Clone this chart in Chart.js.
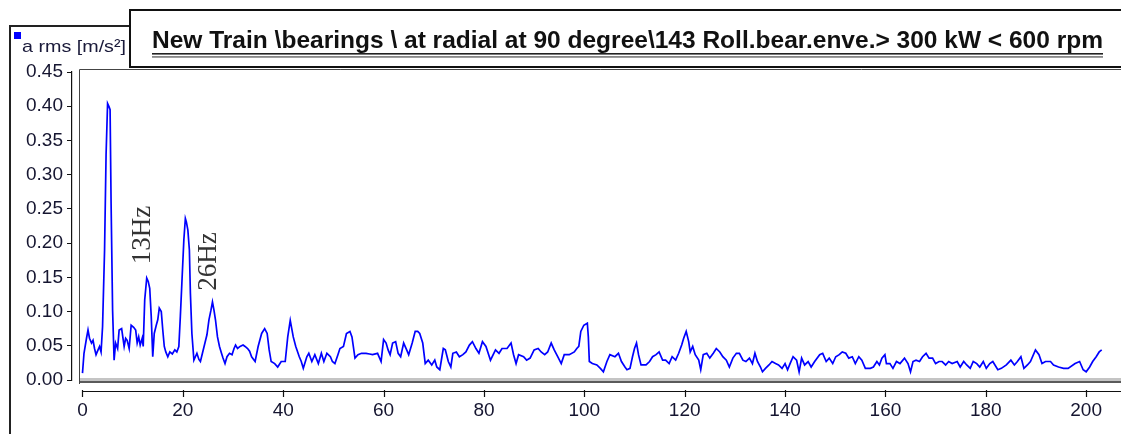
<!DOCTYPE html>
<html><head><meta charset="utf-8">
<script src="https://cdn.jsdelivr.net/npm/chart.js@4"></script>
<style>html,body{margin:0;padding:0;background:#fff;overflow:hidden}#wrap{position:relative;width:1121px;height:434px}</style>
</head><body><div id="wrap"><canvas id="c" width="1121" height="434"></canvas></div>
<script>
const titleText = 'New Train \\bearings \\ at radial at 90 degree\\143 Roll.bear.enve.> 300 kW < 600 rpm';
const yAxisLabel = 'a rms [m/s\u00B2]';
const xTicks = [0,20,40,60,80,100,120,140,160,180,200];
const yTicks = [0,0.05,0.10,0.15,0.20,0.25,0.30,0.35,0.40,0.45];
const peakLabels = ['13Hz','26Hz'];
const peakLabelFreq = [12.1, 25.2];
const peakLabelAmp = [0.212, 0.173];

const freqHz = [0.0,0.3,0.8,1.1,1.4,1.8,2.1,2.4,2.7,3.1,3.4,3.7,4.0,4.4,4.7,5.0,5.3,5.5,5.7,6.0,6.3,6.6,7.0,7.3,7.8,8.3,8.6,8.9,9.3,9.7,10.2,10.6,10.9,11.2,11.5,11.9,12.1,12.4,12.8,13.1,13.4,13.7,14.0,14.3,14.7,15.0,15.3,15.7,16.0,16.3,16.6,17.0,17.4,17.9,18.4,18.8,19.2,19.5,19.8,20.2,20.5,20.7,21.0,21.3,21.5,21.8,22.2,22.5,22.8,23.2,23.5,23.9,24.4,24.8,25.2,25.6,25.9,26.2,26.5,26.9,27.3,27.7,28.0,28.4,28.8,29.3,29.8,30.2,30.5,30.9,31.4,32.0,32.4,32.9,33.3,33.7,34.4,35.0,35.7,36.3,36.8,37.2,37.6,38.3,38.9,39.6,40.4,40.9,41.4,41.7,42.0,42.5,43.2,43.6,44.0,44.7,45.1,45.7,46.3,47.0,47.6,48.1,48.7,49.4,49.8,50.3,50.9,51.3,52.0,52.6,53.3,53.7,54.3,54.9,55.6,56.5,57.2,57.8,58.8,59.5,60.0,60.5,60.9,61.3,61.8,62.4,62.9,63.4,64.0,64.6,65.0,65.7,66.3,66.8,67.2,67.8,68.3,68.9,69.6,70.2,70.6,71.2,71.9,72.3,72.9,73.4,73.8,74.5,75.1,75.8,76.4,77.1,77.7,78.4,79.0,79.7,80.4,81.3,82.3,83.0,83.6,84.6,85.4,85.9,86.4,86.9,87.9,88.5,89.2,90.0,90.8,91.4,92.1,92.7,93.4,94.0,94.7,95.4,96.0,97.0,98.0,98.5,98.9,99.3,99.9,100.6,100.8,101.0,101.6,102.5,103.2,103.8,104.5,105.1,106.1,106.8,107.4,108.1,108.5,109.1,109.6,110.0,110.4,110.8,111.3,112.3,113.0,113.6,114.3,114.9,115.6,116.2,116.9,117.5,118.2,118.8,119.4,119.8,120.3,120.8,121.1,121.6,122.1,122.8,123.2,123.7,124.4,125.0,125.7,126.3,127.0,127.6,128.3,128.9,129.6,130.3,130.9,131.6,132.2,132.9,133.5,134.0,134.5,135.1,135.5,136.1,136.8,137.4,138.1,138.7,139.4,140.0,140.5,141.0,141.6,142.3,142.8,143.3,143.9,144.6,145.2,145.9,146.9,147.5,148.2,148.8,149.5,150.1,150.8,151.4,152.1,152.7,153.4,154.0,154.7,155.3,156.0,157.0,157.6,158.3,158.8,159.3,159.9,160.2,160.9,161.5,162.2,162.9,163.8,164.5,165.0,165.5,166.1,166.8,167.4,168.1,168.7,169.4,170.0,170.7,171.3,172.0,172.6,173.3,174.3,174.9,175.6,176.2,176.9,177.5,178.2,178.8,179.5,180.1,180.8,181.4,182.4,183.1,184.1,185.0,185.7,186.3,187.0,187.6,188.3,188.9,189.9,190.6,191.2,191.9,192.9,193.5,194.5,195.5,196.4,197.8,198.7,199.4,200.0,200.7,201.3,202.0,202.6,203.1];
const amplitude = [0.010,0.039,0.061,0.073,0.061,0.054,0.058,0.046,0.037,0.044,0.049,0.041,0.078,0.190,0.329,0.404,0.399,0.395,0.258,0.102,0.029,0.054,0.046,0.073,0.075,0.049,0.061,0.058,0.046,0.080,0.077,0.073,0.054,0.063,0.051,0.061,0.049,0.117,0.149,0.144,0.134,0.093,0.034,0.068,0.080,0.088,0.105,0.100,0.073,0.049,0.041,0.034,0.041,0.038,0.044,0.041,0.049,0.093,0.141,0.205,0.236,0.231,0.219,0.190,0.127,0.068,0.029,0.034,0.039,0.030,0.027,0.039,0.054,0.066,0.088,0.102,0.114,0.102,0.088,0.063,0.049,0.039,0.032,0.024,0.034,0.039,0.037,0.046,0.051,0.046,0.049,0.051,0.049,0.046,0.042,0.034,0.027,0.049,0.068,0.075,0.068,0.044,0.027,0.024,0.019,0.027,0.027,0.063,0.087,0.075,0.063,0.049,0.034,0.027,0.017,0.034,0.039,0.027,0.037,0.024,0.039,0.027,0.039,0.034,0.027,0.024,0.037,0.046,0.049,0.068,0.071,0.063,0.032,0.037,0.039,0.039,0.038,0.037,0.039,0.027,0.059,0.054,0.044,0.037,0.054,0.056,0.039,0.034,0.054,0.044,0.037,0.054,0.071,0.071,0.068,0.054,0.024,0.029,0.022,0.029,0.019,0.015,0.046,0.044,0.027,0.019,0.039,0.041,0.034,0.037,0.041,0.051,0.056,0.046,0.039,0.056,0.049,0.029,0.044,0.039,0.046,0.046,0.054,0.037,0.024,0.037,0.034,0.029,0.032,0.044,0.046,0.041,0.037,0.041,0.054,0.044,0.034,0.024,0.037,0.037,0.041,0.046,0.049,0.071,0.080,0.083,0.063,0.027,0.024,0.022,0.017,0.012,0.027,0.037,0.034,0.039,0.027,0.019,0.015,0.017,0.034,0.046,0.054,0.037,0.022,0.022,0.027,0.034,0.037,0.041,0.029,0.029,0.024,0.034,0.029,0.039,0.051,0.061,0.071,0.056,0.041,0.049,0.037,0.029,0.015,0.037,0.039,0.032,0.039,0.046,0.041,0.034,0.029,0.019,0.032,0.039,0.039,0.029,0.027,0.032,0.024,0.039,0.027,0.019,0.012,0.017,0.022,0.027,0.024,0.022,0.017,0.024,0.015,0.024,0.034,0.029,0.012,0.032,0.022,0.027,0.019,0.027,0.037,0.039,0.027,0.032,0.024,0.034,0.037,0.041,0.039,0.032,0.034,0.024,0.034,0.029,0.017,0.017,0.019,0.027,0.022,0.032,0.037,0.024,0.024,0.017,0.027,0.024,0.032,0.024,0.012,0.027,0.029,0.027,0.034,0.039,0.032,0.032,0.024,0.027,0.027,0.022,0.027,0.024,0.027,0.019,0.027,0.022,0.017,0.027,0.024,0.019,0.027,0.017,0.024,0.027,0.015,0.017,0.022,0.029,0.022,0.027,0.034,0.017,0.022,0.027,0.044,0.037,0.024,0.027,0.027,0.022,0.019,0.017,0.017,0.024,0.027,0.015,0.012,0.019,0.027,0.034,0.041,0.044];

const SANS = '"Liberation Sans", Arial, sans-serif';
const SERIF = '"Liberation Serif", "Times New Roman", serif';

const framePlugin = {
  id: 'frame',
  beforeDraw(chart) {
    const c = chart.ctx;
    c.save();
    c.fillStyle = '#fff';
    c.fillRect(0, 0, chart.width, chart.height);
    c.strokeStyle = '#222';
    c.lineWidth = 2;
    c.beginPath();
    c.moveTo(10, 440); c.lineTo(10, 26); c.lineTo(130, 26);
    c.stroke();
    c.fillStyle = '#fff';
    c.fillRect(130, 10, 1000, 57);
    c.strokeStyle = '#111';
    c.lineWidth = 2;
    c.strokeRect(130, 10, 1000, 57);
    c.fillStyle = '#111';
    c.font = 'bold 24px ' + SANS;
    c.textBaseline = 'alphabetic';
    c.textAlign = 'left';
    const w = c.measureText(titleText).width;
    const target = 951;
    c.save();
    c.translate(152, 48);
    c.scale(target / w, 1);
    c.fillText(titleText, 0, 0);
    c.restore();
    c.fillStyle = '#222';
    c.fillRect(152, 53, target, 1.6);
    c.fillStyle = '#888';
    c.fillRect(152, 56, target, 1.8);
    c.strokeStyle = '#444';
    c.lineWidth = 1;
    c.beginPath();
    c.moveTo(79.5, 384); c.lineTo(79.5, 69.5); c.lineTo(1125, 69.5);
    c.stroke();
    c.fillStyle = '#c4c4c4';
    c.fillRect(80, 378, 1045, 3);
    c.fillStyle = '#5a5a5a';
    c.fillRect(80, 381, 1045, 2);
    c.restore();
  },
  afterDraw(chart) {
    const c = chart.ctx;
    const xs = chart.scales.x, ys = chart.scales.y;
    c.save();
    const x0 = xs.getPixelForValue(xTicks[0]);
    c.strokeStyle = '#111';
    c.lineWidth = 1.2;
    c.beginPath();
    c.moveTo(x0, 391.5); c.lineTo(1125, 391.5);
    xTicks.forEach(v => { const px = Math.round(xs.getPixelForValue(v)) + 0.5; c.moveTo(px, 390); c.lineTo(px, 397); });
    c.stroke();
    c.fillStyle = '#0000ff';
    c.fillRect(14, 32, 7, 7);
    c.fillStyle = '#1a1a3a';
    c.font = '17px ' + SANS;
    c.textBaseline = 'middle';
    c.textAlign = 'left';
    const lw = c.measureText(yAxisLabel).width;
    c.save();
    c.translate(22, 47);
    c.scale(104 / lw, 1);
    c.fillText(yAxisLabel, 0, 0);
    c.restore();
    c.fillStyle = '#333';
    c.font = '27px ' + SERIF;
    c.textAlign = 'center';
    c.textBaseline = 'middle';
    peakLabels.forEach((t, i) => {
      c.save();
      c.translate(xs.getPixelForValue(peakLabelFreq[i]), ys.getPixelForValue(peakLabelAmp[i]));
      c.rotate(-Math.PI / 2);
      c.fillText(t, 0, 0);
      c.restore();
    });
    c.restore();
  }
};

new Chart(document.getElementById('c').getContext('2d'), {
  type: 'line',
  data: { datasets: [{
    data: freqHz.map((f, i) => ({ x: f, y: amplitude[i] })),
    borderColor: '#0000ff', borderWidth: 1.7, pointRadius: 0, tension: 0, fill: false, clip: false
  }]},
  options: {
    responsive: false, animation: false, devicePixelRatio: 1,
    layout: { padding: { left: 0, top: 72, right: 0, bottom: 0 } },
    plugins: { legend: { display: false }, tooltip: { enabled: false }, title: { display: false } },
    scales: {
      x: {
        type: 'linear', min: -2.09, max: 203.15,
        afterBuildTicks: s => { s.ticks = xTicks.map(v => ({ value: v })); },
        afterFit: s => { s.height = 54; },
        grid: { display: false, drawTicks: false },
        border: { display: false },
        ticks: { padding: 19, autoSkip: false, maxRotation: 0, color: '#151530', font: { family: SANS, size: 19 } }
      },
      y: {
        type: 'linear', min: 0, max: 0.45,
        afterBuildTicks: s => { s.ticks = yTicks.map(v => ({ value: v })); },
        afterFit: s => { s.width = 72; },
        grid: { drawOnChartArea: false, drawTicks: true, tickLength: 5, color: '#111', tickColor: '#111' },
        border: { display: true, color: '#111', width: 1.2 },
        ticks: { padding: 4, autoSkip: false, color: '#151530', font: { family: SANS, size: 19 }, callback: v => Number(v).toFixed(2) }
      }
    }
  },
  plugins: [framePlugin]
});
</script></body></html>
